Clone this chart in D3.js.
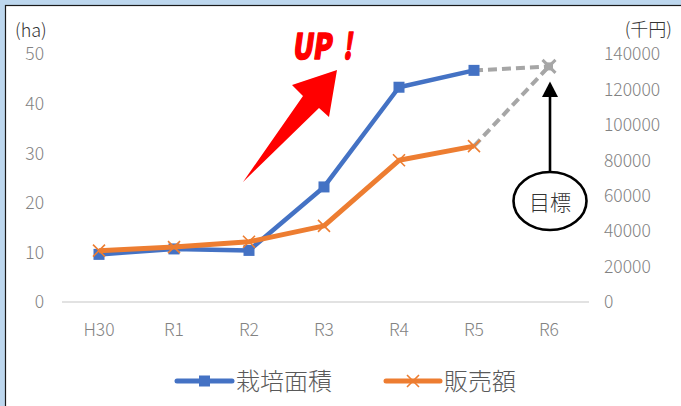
<!DOCTYPE html>
<html><head><meta charset="utf-8">
<script src="https://cdn.jsdelivr.net/npm/d3@7"></script>
<style>
html,body{margin:0;padding:0;background:#BDD7EE;}
svg{display:block;}
text{font-family:"Noto Sans CJK JP","Noto Sans",sans-serif;}
</style></head>
<body>
<script>
// ---- data ----
const years = ["H30","R1","R2","R3","R4","R5","R6"];
const area = [9.6, 10.7, 10.4, 23.2, 43.3, 46.7];       // 栽培面積 (ha)
const sales = [29000, 31000, 34000, 43000, 80000, 88000]; // 販売額 (千円)
const areaGoal = 47.5;
const salesGoal = 133000;
const leftTicks = [0,10,20,30,40,50];
const rightTicks = [0,20000,40000,60000,80000,100000,120000,140000];
const seriesNames = ["栽培面積","販売額"];

const W = 681, H = 406;
const svg = d3.select("body").append("svg").attr("width", W).attr("height", H);

// white panel with dark border (left/top)
svg.append("rect").attr("x",5.5).attr("y",5.5).attr("width",W).attr("height",H)
  .attr("fill","#fff").attr("stroke","#1a1a1a").attr("stroke-width",1.2);

const x = d3.scaleBand().domain(years).range([61.5, 586.5]);
const cx = d => x(d) + x.bandwidth()/2;
const yL = d3.scaleLinear().domain([0,50]).range([302, 54]);
const yR = d3.scaleLinear().domain([0,140000]).range([302, 54]);

// baseline
svg.append("line").attr("x1",62).attr("x2",589).attr("y1",yL(0)).attr("y2",yL(0))
  .attr("stroke","#d9d9d9").attr("stroke-width",1.5);

const tickColor = "#828282";
const fs = 17.5;
const tw = 300;
// left axis
svg.append("g").selectAll("text").data(leftTicks).join("text")
  .attr("x",44).attr("y",d=>yL(d)).attr("dy","0.36em").attr("text-anchor","end")
  .attr("font-size",fs).attr("font-weight",tw).attr("fill",tickColor).text(d=>d);
// right axis
svg.append("g").selectAll("text").data(rightTicks).join("text")
  .attr("x",604).attr("y",d=>yR(d)).attr("dy","0.36em").attr("text-anchor","start")
  .attr("font-size",fs).attr("font-weight",tw).attr("fill",tickColor).text(d=>d);
// x axis labels
svg.append("g").selectAll("text").data(years).join("text")
  .attr("x",d=>cx(d)).attr("y",330).attr("dy","0.36em").attr("text-anchor","middle")
  .attr("font-size",fs).attr("font-weight",tw).attr("fill",tickColor).text(d=>d);
// units
svg.append("text").attr("x",15).attr("y",31).attr("dy","0.36em").attr("font-size",18)
  .attr("font-weight",tw).attr("fill","#333").text("(ha)");
svg.append("text").attr("x",672).attr("y",30).attr("dy","0.36em").attr("font-size",18)
  .attr("font-weight",tw).attr("text-anchor","end").attr("fill","#333").text("(千円)");

const blue = "#4472C4", orange = "#ED7D31", gray = "#A6A6A6";

// goal dashed lines
const lastI = years.length - 2;
svg.append("line").attr("x1",cx(years[lastI])).attr("y1",yL(area[lastI]))
  .attr("x2",cx(years[lastI+1])).attr("y2",yL(areaGoal))
  .attr("stroke",gray).attr("stroke-width",4).attr("stroke-dasharray","9,5");
svg.append("line").attr("x1",cx(years[lastI])).attr("y1",yR(sales[lastI]))
  .attr("x2",cx(years[lastI+1])).attr("y2",yR(salesGoal))
  .attr("stroke",gray).attr("stroke-width",4).attr("stroke-dasharray","9,5");

// blue line
const lineL = d3.line().x((d,i)=>cx(years[i])).y(d=>yL(d));
const lineR = d3.line().x((d,i)=>cx(years[i])).y(d=>yR(d));
svg.append("path").attr("d",lineL(area)).attr("fill","none").attr("stroke",blue)
  .attr("stroke-width",4.5).attr("stroke-linejoin","round");
svg.append("g").selectAll("rect").data(area).join("rect")
  .attr("x",(d,i)=>cx(years[i])-5.5).attr("y",d=>yL(d)-5.5).attr("width",11).attr("height",11)
  .attr("fill",blue);

// orange line
svg.append("path").attr("d",lineR(sales)).attr("fill","none").attr("stroke",orange)
  .attr("stroke-width",5).attr("stroke-linejoin","round");
const xMark = (g, px, py, col, s, w) => {
  g.append("path").attr("d",`M${px-s},${py-s}L${px+s},${py+s}M${px-s},${py+s}L${px+s},${py-s}`)
    .attr("stroke",col).attr("stroke-width",w).attr("fill","none");
};
const og = svg.append("g");
sales.forEach((d,i)=>xMark(og, cx(years[i]), yR(d), orange, 6, 1.6));

// goal markers
const gx = cx(years[years.length-1]);
svg.append("rect").attr("x",gx-4).attr("y",yL(areaGoal)-4).attr("width",8).attr("height",8).attr("fill",gray);
xMark(svg, gx, yR(salesGoal), gray, 6.5, 3);

// black arrow + ellipse "目標"
const ellCy = 201;
svg.append("line").attr("x1",gx+1).attr("x2",gx+1).attr("y1",ellCy-29).attr("y2",95)
  .attr("stroke","#000").attr("stroke-width",2.6);
svg.append("path").attr("d",`M${gx+1},${yL(areaGoal)+15}L${gx-7},${97}L${gx+9},${97}Z`).attr("fill","#000");
svg.append("ellipse").attr("cx",gx+1).attr("cy",ellCy).attr("rx",36.5).attr("ry",29)
  .attr("fill","#fff").attr("stroke","#000").attr("stroke-width",2.6);
svg.append("text").attr("x",gx+1).attr("y",ellCy+1).attr("dy","0.36em").attr("text-anchor","middle")
  .attr("font-size",21).attr("font-weight",tw).attr("fill","#333").text("目標");

// red arrow and UP!
svg.append("path").attr("d","M243,182L303,96L292,85L337,70L329,117L319,108Z").attr("fill","#FF0000");
svg.append("text").attr("transform","translate(292,59) skewX(-8)")
  .attr("font-size",35).attr("font-weight",900).attr("fill","#FF0000")
  .attr("stroke","#FF0000").attr("stroke-width",1.6).attr("stroke-linejoin","round")
  .attr("textLength",39).attr("lengthAdjust","spacingAndGlyphs").text("UP");
svg.append("text").attr("transform","translate(343,59) skewX(-8)")
  .attr("font-size",35).attr("font-weight",900).attr("fill","#FF0000")
  .attr("stroke","#FF0000").attr("stroke-width",1.6).attr("stroke-linejoin","round")
  .attr("textLength",9).attr("lengthAdjust","spacingAndGlyphs").text("!");

// legend
const ly = 381;
const lg = svg.append("g");
lg.append("line").attr("x1",177).attr("x2",232).attr("y1",ly).attr("y2",ly)
  .attr("stroke",blue).attr("stroke-width",5).attr("stroke-linecap","round");
lg.append("rect").attr("x",199).attr("y",ly-5.5).attr("width",11).attr("height",11).attr("fill",blue);
lg.append("text").attr("x",236).attr("y",ly).attr("dy","0.36em").attr("font-size",24)
  .attr("font-weight",tw).attr("fill","#595959").text(seriesNames[0]);
lg.append("line").attr("x1",386).attr("x2",440).attr("y1",ly).attr("y2",ly)
  .attr("stroke",orange).attr("stroke-width",5).attr("stroke-linecap","round");
xMark(lg, 413, ly, orange, 6, 1.6);
lg.append("text").attr("x",444).attr("y",ly).attr("dy","0.36em").attr("font-size",24)
  .attr("font-weight",tw).attr("fill","#595959").text(seriesNames[1]);
</script>
</body></html>
